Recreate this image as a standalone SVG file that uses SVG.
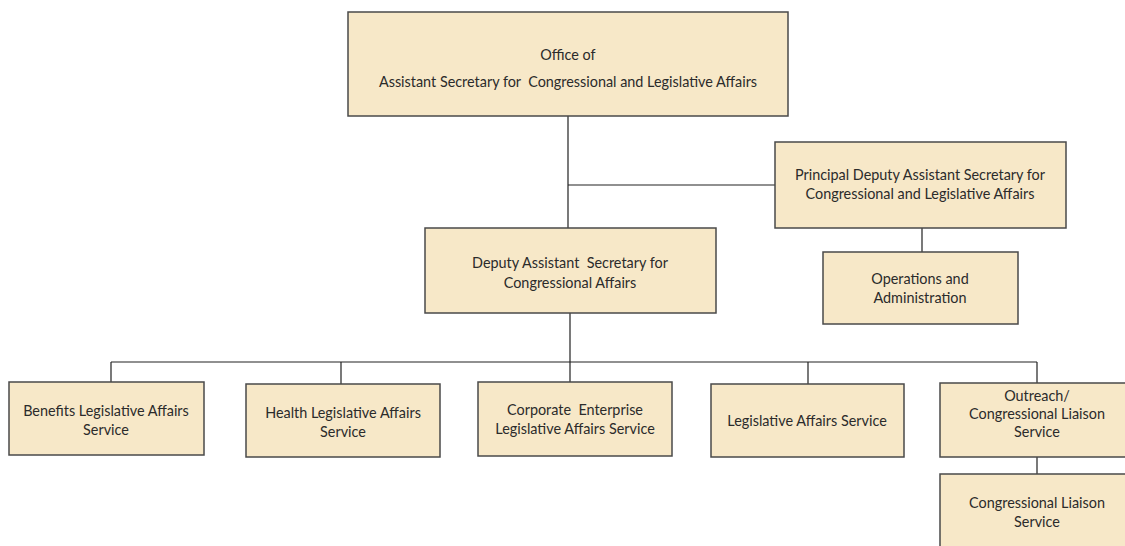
<svg xmlns="http://www.w3.org/2000/svg" width="1125" height="546" viewBox="0 0 1125 546">
<style>
.box{fill:#F7E8C8;stroke:#4a4a4a;stroke-width:1.5}
.t{font-family:Lato,"Liberation Sans",sans-serif;font-size:14.4px;fill:#2b2b2b;text-anchor:middle;white-space:pre}
.c{stroke:#222;stroke-width:1.2;fill:none}
</style>
<rect width="1125" height="546" fill="#ffffff"/>
<g id="connectors">
<path class="c" d="M568 116V228M568 185H775M922 228V252M570 313V362M111 362H1037M111 362V382M341 362V384M570 362V382M808 362V384M1037 362V383M1037 457V474"/>
</g>
<g id="office">
<rect class="box" x="348" y="12" width="440" height="104"/>
<text class="t" x="568" y="60">Office of</text>
<text class="t" x="568" y="87" xml:space="preserve">Assistant Secretary for  Congressional and Legislative Affairs</text>
</g>
<g id="pdas">
<rect class="box" x="775" y="142" width="291" height="86"/>
<text class="t" x="920" y="180">Principal Deputy Assistant Secretary for</text>
<text class="t" x="920" y="199">Congressional and Legislative Affairs</text>
</g>
<g id="ops">
<rect class="box" x="823" y="252" width="195" height="72"/>
<text class="t" x="920" y="284">Operations and</text>
<text class="t" x="920" y="303">Administration</text>
</g>
<g id="das">
<rect class="box" x="425" y="228" width="291" height="85"/>
<text class="t" x="570" y="268" xml:space="preserve">Deputy Assistant  Secretary for</text>
<text class="t" x="570" y="288">Congressional Affairs</text>
</g>
<g id="benefits">
<rect class="box" x="9" y="382" width="195" height="73"/>
<text class="t" x="106" y="416">Benefits Legislative Affairs</text>
<text class="t" x="106" y="435">Service</text>
</g>
<g id="health">
<rect class="box" x="246" y="384" width="194" height="73"/>
<text class="t" x="343" y="418">Health Legislative Affairs</text>
<text class="t" x="343" y="437">Service</text>
</g>
<g id="corporate">
<rect class="box" x="478" y="382" width="194" height="74"/>
<text class="t" x="575" y="415" xml:space="preserve">Corporate  Enterprise</text>
<text class="t" x="575" y="434">Legislative Affairs Service</text>
</g>
<g id="legislative">
<rect class="box" x="711" y="384" width="193" height="73"/>
<text class="t" x="807" y="426">Legislative Affairs Service</text>
</g>
<g id="outreach">
<rect class="box" x="940" y="383" width="195" height="74"/>
<text class="t" x="1037" y="401">Outreach/</text>
<text class="t" x="1037" y="419">Congressional Liaison</text>
<text class="t" x="1037" y="437">Service</text>
</g>
<g id="liaison">
<rect class="box" x="940" y="474" width="195" height="80"/>
<text class="t" x="1037" y="508">Congressional Liaison</text>
<text class="t" x="1037" y="527">Service</text>
</g>
</svg>
